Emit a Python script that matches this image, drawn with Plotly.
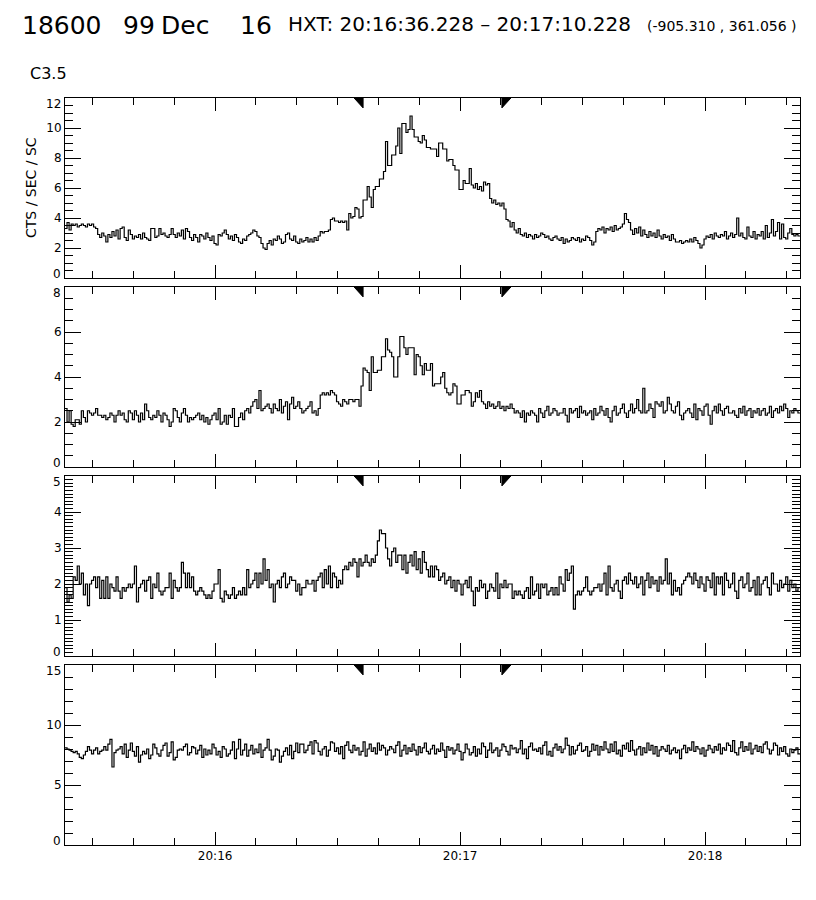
import pandas as pd
import plotly.graph_objects as go

# observation window and HXT accumulation interval (from the title)
DAY = "1999-12-16"
T_START = "20:15:23.228"
T_END = "20:18:23.228"
BIN_SEC = 0.5
MARK_START = "20:16:36.228"
MARK_END = "20:17:10.228"

# count rates per 0.5 s bin, CTS / SEC / SC
lo = [
    3.3, 3.7, 3.2, 3.6, 3.5, 3.6, 3.4, 3.5, 3.6, 3.5, 3.4, 3.6, 3.5, 3.6, 3.4, 3.3, 2.9, 2.7, 3.0, 2.8,
    2.4, 2.9, 2.7, 3.1, 2.8, 3.2, 2.6, 3.3, 3.4, 2.7, 2.5, 3.2, 2.9, 2.6, 2.8, 2.7, 2.9, 2.6, 3.0, 2.7,
    2.6, 2.5, 3.3, 3.3, 2.7, 2.8, 3.3, 2.9, 3.0, 2.8, 2.7, 2.9, 3.3, 2.9, 2.7, 3.0, 2.8, 3.2, 2.6, 3.3,
    3.1, 2.7, 2.5, 2.9, 2.7, 2.4, 2.9, 2.8, 2.6, 3.0, 2.7, 2.5, 2.8, 2.3, 2.2, 2.9, 2.8, 3.0, 3.2, 2.9,
    2.6, 2.8, 2.5, 2.9, 2.7, 2.4, 2.3, 2.6, 2.5, 2.8, 2.9, 3.0, 3.2, 3.1, 2.8, 2.7, 2.3, 2.0, 1.9, 2.3,
    2.5, 2.2, 2.6, 2.5, 2.8, 2.6, 2.3, 2.4, 2.9, 3.0, 2.6, 2.5, 2.8, 2.4, 2.3, 2.6, 2.4, 2.5, 2.7, 2.4,
    2.6, 2.4, 2.7, 2.5, 2.8, 3.1, 3.0, 3.1, 3.1, 3.2, 3.9, 4.0, 3.8, 3.8, 3.7, 3.8, 3.7, 3.8, 3.2, 4.3,
    4.0, 4.1, 4.7, 4.6, 4.0, 4.1, 5.2, 5.2, 6.1, 5.4, 4.7, 5.9, 6.1, 6.1, 6.6, 6.6, 7.1, 9.1, 7.5, 7.5,
    8.2, 8.2, 8.8, 10.0, 8.3, 10.3, 10.3, 9.7, 9.9, 10.8, 9.9, 9.4, 9.4, 9.1, 9.0, 9.5, 9.2, 8.7, 8.7, 8.6,
    8.6, 8.6, 8.1, 9.0, 9.0, 8.6, 8.6, 7.8, 7.9, 7.9, 7.5, 7.2, 7.2, 5.9, 5.9, 6.5, 6.3, 6.3, 7.3, 6.2,
    6.0, 6.3, 5.9, 6.1, 5.8, 6.4, 6.2, 6.3, 5.3, 5.0, 5.2, 4.9, 5.0, 4.8, 5.0, 4.6, 3.9, 3.8, 3.4, 3.7,
    3.2, 3.0, 3.3, 2.9, 2.8, 3.0, 2.7, 2.9, 2.8, 2.6, 2.9, 2.7, 2.8, 3.0, 2.9, 2.7, 2.8, 2.6, 2.5, 2.7,
    2.8, 2.6, 2.5, 2.7, 2.3, 2.6, 2.4, 2.5, 2.7, 2.6, 2.5, 2.7, 2.4, 2.6, 2.5, 2.8, 2.7, 2.5, 2.2, 2.4,
    3.1, 3.3, 3.2, 3.4, 3.0, 3.3, 3.2, 3.4, 3.1, 3.5, 3.2, 3.3, 3.4, 3.6, 4.3, 3.9, 3.7, 3.2, 2.9, 3.3,
    3.0, 3.4, 2.8, 3.2, 2.9, 2.7, 3.1, 2.8, 3.0, 2.7, 3.2, 2.8, 2.6, 2.9, 2.7, 2.8, 2.5, 2.9, 2.6, 2.4,
    2.4, 2.5, 2.3, 2.4, 2.5, 2.4, 2.6, 2.4, 2.7, 2.5, 2.3, 2.0, 2.2, 2.6, 2.8, 2.7, 2.9, 2.6, 3.0, 2.8,
    2.7, 2.9, 2.8, 3.1, 2.6, 2.8, 3.0, 2.7, 2.9, 4.0, 2.8, 3.0, 2.7, 2.6, 3.4, 2.8, 2.7, 3.1, 2.6, 2.9,
    2.8, 3.1, 2.6, 3.5, 2.7, 3.0, 3.9, 2.8, 3.1, 3.7, 2.6, 3.6, 2.7, 2.6, 3.0, 3.3, 2.9, 2.8, 2.9, 2.8,
]
m1 = [
    2.6, 2.0, 2.5, 1.9, 1.8, 2.1, 2.1, 1.9, 2.5, 2.2, 2.0, 2.5, 2.4, 2.3, 2.4, 2.6, 2.3, 2.3, 2.2, 2.3,
    2.1, 2.2, 2.4, 2.3, 2.0, 2.3, 2.5, 2.3, 2.4, 2.1, 2.0, 2.5, 2.4, 2.1, 2.5, 2.3, 2.0, 2.4, 2.1, 2.8,
    2.5, 2.2, 2.1, 2.3, 2.2, 2.5, 2.3, 2.0, 2.4, 2.3, 2.1, 1.8, 2.0, 2.6, 2.5, 2.2, 2.0, 2.4, 2.6, 2.3,
    2.0, 2.2, 2.1, 2.2, 2.3, 2.4, 2.1, 2.3, 2.0, 2.2, 1.9, 2.1, 2.3, 2.4, 2.1, 2.6, 1.9, 2.0, 2.3, 1.9,
    2.3, 2.2, 2.6, 1.8, 1.8, 2.2, 2.4, 2.1, 2.5, 2.6, 2.4, 2.7, 2.9, 3.0, 2.6, 3.4, 2.5, 2.6, 2.7, 2.8,
    2.6, 2.4, 2.8, 2.6, 2.5, 3.0, 2.4, 2.7, 2.9, 2.1, 2.8, 3.1, 2.6, 2.7, 2.9, 2.6, 2.4, 2.5, 2.6, 2.7,
    2.9, 2.4, 2.5, 2.3, 2.6, 3.2, 3.3, 3.2, 3.3, 3.2, 3.4, 3.3, 3.2, 2.9, 2.8, 2.7, 3.0, 2.9, 2.8, 3.0,
    3.0, 2.9, 3.0, 3.0, 2.7, 3.6, 4.4, 4.3, 4.2, 3.4, 4.9, 4.2, 4.2, 4.3, 4.3, 4.9, 4.9, 5.7, 5.2, 5.1,
    4.9, 4.0, 4.0, 4.9, 5.8, 5.8, 5.3, 5.0, 5.3, 5.3, 5.3, 4.1, 5.0, 4.9, 4.5, 4.1, 4.6, 4.3, 4.3, 4.6,
    3.6, 3.7, 3.7, 3.7, 4.0, 4.2, 3.5, 3.3, 3.2, 3.3, 3.7, 3.6, 2.8, 2.8, 3.2, 3.2, 3.4, 3.4, 3.3, 2.7,
    2.9, 3.3, 3.1, 3.4, 2.9, 2.8, 2.6, 2.9, 2.7, 2.8, 2.6, 2.7, 2.9, 2.6, 2.7, 2.5, 2.7, 2.6, 2.8, 2.6,
    2.4, 2.5, 2.4, 2.2, 2.5, 2.0, 2.4, 2.3, 2.5, 2.4, 2.3, 2.0, 2.6, 2.4, 2.2, 2.5, 2.7, 2.3, 2.4, 2.6,
    2.5, 2.3, 2.4, 2.4, 2.6, 2.3, 2.0, 2.6, 2.4, 2.5, 2.6, 2.2, 2.7, 2.4, 2.5, 2.3, 2.4, 2.5, 2.1, 2.6,
    2.3, 2.4, 2.7, 2.5, 2.3, 2.6, 2.2, 2.0, 2.5, 2.7, 2.3, 2.4, 2.6, 2.8, 2.4, 2.2, 2.5, 2.8, 2.4, 2.6,
    3.0, 2.5, 2.4, 3.5, 2.4, 2.5, 2.8, 2.6, 2.2, 2.9, 2.8, 2.7, 2.9, 2.4, 2.5, 3.1, 2.8, 2.5, 2.4, 2.7,
    2.9, 2.3, 2.1, 2.4, 2.5, 2.6, 2.4, 2.2, 2.8, 2.1, 2.6, 2.5, 2.3, 2.7, 2.8, 2.3, 1.9, 2.5, 2.7, 2.4,
    2.8, 2.5, 2.3, 2.6, 2.7, 2.4, 2.4, 2.5, 2.3, 2.2, 2.6, 2.4, 2.7, 2.3, 2.5, 2.6, 2.2, 2.5, 2.4, 2.6,
    2.3, 2.5, 2.6, 2.3, 2.4, 2.7, 2.2, 2.5, 2.6, 2.4, 2.7, 2.5, 2.8, 2.6, 2.2, 2.5, 2.4, 2.6, 2.5, 2.4,
]
m2 = [
    1.9, 1.5, 1.7, 1.6, 2.2, 2.1, 2.5, 2.0, 2.3, 1.7, 2.0, 1.4, 2.0, 2.1, 2.2, 1.9, 2.2, 1.6, 2.1, 1.6,
    2.2, 1.6, 2.0, 1.9, 1.8, 2.2, 1.8, 1.6, 1.9, 1.8, 1.9, 2.0, 1.9, 2.0, 2.5, 1.5, 1.9, 2.0, 2.1, 1.8,
    2.1, 2.2, 1.6, 2.0, 1.9, 2.3, 1.8, 1.7, 1.8, 1.9, 1.9, 2.3, 1.6, 2.1, 1.9, 1.8, 1.9, 2.6, 2.3, 1.9,
    2.3, 1.9, 2.2, 1.8, 1.7, 1.8, 1.9, 1.8, 1.7, 1.6, 1.7, 1.6, 1.8, 2.0, 2.0, 2.4, 1.6, 1.5, 1.8, 1.7,
    1.6, 1.7, 1.9, 1.6, 1.7, 1.8, 1.7, 1.9, 1.7, 2.4, 1.9, 2.0, 2.1, 2.3, 1.9, 2.3, 2.0, 2.7, 2.1, 2.4,
    1.9, 2.0, 1.5, 2.0, 2.1, 1.9, 2.2, 2.3, 1.9, 2.0, 2.2, 2.1, 2.1, 1.8, 2.0, 1.7, 1.9, 1.9, 2.1, 2.0,
    2.0, 2.1, 1.8, 2.1, 2.2, 2.3, 1.9, 2.4, 2.0, 2.5, 1.9, 2.3, 2.2, 1.9, 2.1, 2.0, 2.4, 2.5, 2.4, 2.6,
    2.5, 2.7, 2.6, 2.2, 2.7, 2.5, 2.6, 2.8, 2.6, 2.5, 2.7, 2.6, 2.8, 3.2, 3.5, 3.4, 3.4, 3.0, 2.7, 2.5,
    2.9, 3.0, 2.6, 2.8, 2.8, 2.4, 2.8, 2.3, 2.6, 2.8, 2.5, 2.9, 2.4, 2.7, 2.3, 2.9, 2.6, 2.4, 2.2, 2.5,
    2.2, 2.5, 2.4, 2.1, 2.2, 2.3, 2.0, 2.1, 2.2, 1.9, 2.1, 1.8, 2.1, 2.0, 1.7, 2.0, 2.1, 1.9, 2.2, 1.8,
    1.4, 1.9, 1.8, 2.1, 1.9, 2.0, 1.6, 1.8, 2.0, 1.9, 1.8, 2.3, 1.6, 2.0, 1.9, 2.1, 1.9, 2.0, 2.0, 1.6,
    1.8, 1.7, 1.8, 1.7, 1.6, 1.8, 1.9, 1.6, 2.2, 1.7, 1.8, 2.0, 1.6, 2.0, 1.9, 2.0, 1.7, 1.8, 1.9, 1.7,
    1.9, 1.7, 2.2, 2.0, 1.8, 2.4, 2.1, 2.3, 2.5, 1.3, 1.7, 1.8, 1.7, 1.8, 1.9, 2.2, 1.8, 1.7, 1.8, 1.9,
    1.9, 2.0, 1.8, 2.0, 2.3, 1.7, 2.5, 1.9, 1.8, 2.0, 2.1, 1.8, 1.6, 2.1, 2.2, 2.0, 2.3, 2.1, 2.0, 2.2,
    1.9, 2.0, 2.2, 1.7, 2.1, 2.3, 1.9, 2.2, 2.0, 2.1, 1.8, 2.2, 2.0, 2.1, 2.7, 2.0, 2.3, 1.7, 2.1, 1.8,
    1.9, 1.7, 2.0, 2.1, 2.2, 2.3, 2.2, 2.0, 2.3, 2.1, 1.9, 2.2, 2.0, 1.8, 2.2, 2.1, 1.9, 2.3, 1.7, 2.2,
    2.0, 2.2, 1.7, 2.3, 2.1, 1.9, 2.0, 2.3, 1.8, 1.6, 2.1, 2.2, 1.9, 2.0, 2.3, 1.8, 1.9, 2.1, 1.7, 2.2,
    1.7, 2.0, 2.1, 2.2, 1.9, 1.7, 2.3, 2.0, 2.0, 1.8, 2.1, 1.9, 2.0, 2.2, 1.8, 2.1, 1.9, 2.0, 1.8, 1.9,
]
hi = [
    8.1, 8.0, 7.9, 7.8, 7.7, 7.8, 7.6, 7.3, 7.2, 7.5, 7.8, 8.2, 7.9, 7.6, 7.9, 8.1, 7.6, 7.8, 7.9, 8.2,
    7.9, 8.4, 8.8, 6.5, 7.7, 7.9, 8.0, 8.2, 7.6, 8.4, 7.3, 7.9, 8.5, 7.8, 7.4, 8.2, 6.9, 7.5, 7.8, 7.6,
    8.0, 7.2, 7.5, 8.4, 8.1, 7.6, 7.4, 7.9, 8.3, 8.5, 7.4, 7.7, 8.6, 7.1, 7.3, 7.9, 8.0, 7.9, 8.2, 8.4,
    7.5, 7.7, 8.2, 8.1, 7.6, 7.9, 8.3, 7.3, 8.0, 7.5, 7.9, 7.6, 8.4, 8.1, 7.5, 7.8, 7.3, 8.2, 8.0, 7.4,
    7.6, 7.9, 8.6, 7.2, 8.0, 8.8, 7.5, 7.9, 8.4, 7.4, 7.9, 8.3, 7.6, 8.0, 7.7, 8.4, 7.3, 7.9, 8.1, 8.8,
    7.9, 7.1, 7.4, 8.0, 7.9, 6.9, 7.4, 7.8, 8.1, 7.5, 8.3, 7.2, 7.8, 8.5, 7.7, 8.4, 8.4, 7.7, 7.9, 8.3,
    8.6, 7.6, 8.7, 8.5, 7.8, 7.5, 8.0, 8.2, 7.4, 7.9, 8.6, 8.5, 7.8, 8.1, 7.6, 8.2, 7.2, 8.3, 8.6, 7.9,
    7.7, 8.3, 7.9, 8.1, 7.5, 7.8, 8.6, 7.4, 8.0, 8.4, 7.8, 8.1, 7.6, 8.5, 7.9, 8.3, 8.1, 7.5, 7.9, 8.2,
    8.0, 7.7, 8.3, 8.6, 7.4, 7.9, 8.3, 7.6, 8.1, 7.8, 8.4, 7.9, 7.5, 8.2, 7.7, 8.1, 8.5, 7.8, 7.6, 8.0,
    8.3, 7.6, 8.0, 7.8, 8.5, 7.9, 7.3, 8.2, 7.9, 8.1, 7.6, 7.9, 8.4, 7.8, 7.1, 7.7, 8.4, 8.0, 7.5, 7.7,
    8.2, 7.4, 8.0, 7.6, 8.5, 8.2, 7.3, 7.9, 8.5, 7.7, 7.9, 8.1, 7.4, 7.9, 8.4, 8.2, 7.8, 7.5, 8.3, 8.0,
    8.1, 7.7, 8.0, 8.7, 7.6, 8.0, 7.2, 8.2, 8.5, 7.9, 8.0, 7.8, 8.1, 7.6, 8.3, 8.6, 7.5, 7.8, 7.4, 8.1,
    8.4, 7.9, 8.2, 7.7, 8.0, 8.9, 8.3, 7.5, 8.2, 7.6, 7.9, 8.3, 8.5, 7.8, 7.9, 8.2, 7.4, 7.8, 8.4, 7.9,
    8.3, 7.5, 8.2, 7.9, 8.6, 8.0, 7.7, 8.4, 7.8, 8.6, 7.6, 7.9, 7.4, 8.3, 8.0, 8.5, 7.8, 8.7, 7.9, 7.5,
    8.0, 8.2, 7.5, 8.1, 7.7, 8.5, 7.9, 8.3, 7.6, 8.2, 7.4, 7.9, 8.2, 8.0, 7.8, 8.3, 7.6, 7.9, 8.1, 7.7,
    7.9, 7.2, 8.0, 8.3, 7.7, 8.1, 7.9, 8.6, 7.8, 8.2, 8.0, 7.6, 8.1, 7.4, 7.9, 8.3, 8.0, 7.7, 8.2, 7.9,
    8.4, 7.6, 8.1, 7.9, 8.5, 8.3, 7.8, 8.7, 7.7, 7.5, 8.1, 8.6, 7.8, 8.2, 7.9, 8.5, 7.6, 8.0, 8.3, 7.8,
    8.2, 7.7, 8.4, 8.6, 8.0, 7.6, 7.9, 8.5, 8.3, 7.5, 8.1, 7.8, 8.2, 7.6, 7.4, 8.0, 7.7, 7.9, 8.1, 7.6,
]

# y-axis setup per panel: (max, major step, minor step)
y_setup = [(12, 2, 0.5), (8, 2, 0.5), (5, 1, 0.1), (15, 5, 1)]
series = [lo, m1, m2, hi]

FONT = "DejaVu Sans"
TICK_SIZE = 12
t0 = pd.Timestamp(f"{DAY} {T_START}")
t_end = pd.Timestamp(f"{DAY} {T_END}")

# panel heights in px: 180 each, 9 px gap, 747 px total
H = 747.0
domains = [[567 / H, 1.0], [378 / H, 558 / H], [189 / H, 369 / H], [0.0, 180 / H]]

fig = go.Figure()
for i, vals in enumerate(series):
    n = len(vals)
    edges = pd.date_range(t0, periods=n + 1, freq=f"{int(BIN_SEC * 1000)}ms")
    sfx = "" if i == 0 else str(i + 1)
    fig.add_trace(go.Scatter(
        x=edges, y=list(vals) + [vals[-1]],
        mode="lines", line=dict(color="black", width=1.2, shape="hv"),
        xaxis="x" + sfx, yaxis="y" + sfx, showlegend=False, hoverinfo="skip",
    ))

    ymax, dmaj, dmin = y_setup[i]
    yvals = list(range(0, ymax + 1, dmaj))
    # end labels are drawn separately (IDL style: nudged inside the panel)
    ytext = [""] + [str(v) for v in yvals[1:-1]] + [""]
    fig.update_layout({
        "xaxis" + sfx: dict(
            type="date", range=[t0, t_end], anchor="y" + sfx, domain=[0, 1],
            tick0=f"{DAY} 20:16:00", dtick=60000, tickformat="%H:%M",
            ticks="inside", ticklen=13, tickwidth=1, tickcolor="black", mirror="ticks",
            showline=True, linecolor="black", linewidth=1, showgrid=False, zeroline=False,
            minor=dict(dtick=10000, ticks="inside", ticklen=7, tickcolor="black", showgrid=False),
            showticklabels=(i == 3), tickfont=dict(family=FONT, size=TICK_SIZE, color="black"),
        ),
        "yaxis" + sfx: dict(
            range=[0, ymax], tickmode="array", tickvals=yvals, ticktext=ytext,
            anchor="x" + sfx, domain=domains[i],
            ticks="inside", ticklen=16, tickwidth=1, tickcolor="black", mirror="ticks",
            showline=True, linecolor="black", linewidth=1, showgrid=False, zeroline=False,
            minor=dict(tickmode="linear", tick0=0, dtick=dmin, ticks="inside", ticklen=8,
                       tickcolor="black", showgrid=False),
            tickfont=dict(family=FONT, size=TICK_SIZE, color="black"),
        ),
    })
    for v, shift in ((0, 4), (1, -6)):
        fig.add_annotation(text=str(yvals[0] if v == 0 else yvals[-1]), x=0, y=v,
                           xref="paper", yref=f"y{sfx} domain", xanchor="right", yanchor="middle",
                           xshift=-2, yshift=shift, showarrow=False,
                           font=dict(family=FONT, size=TICK_SIZE, color="black"))

    # accumulation-interval markers on the top edge of every panel
    w = pd.Timedelta(seconds=2.2)
    ms = pd.Timestamp(f"{DAY} {MARK_START}")
    me = pd.Timestamp(f"{DAY} {MARK_END}")
    fmt = lambda t: t.strftime("%Y-%m-%d_%H:%M:%S.%f")
    for path in (
        f"M {fmt(ms - w)},1 L {fmt(ms)},1 L {fmt(ms)},0.945 Z",
        f"M {fmt(me)},1 L {fmt(me + w)},1 L {fmt(me)},0.945 Z",
    ):
        fig.add_shape(type="path", path=path, xref="x" + sfx, yref=f"y{sfx} domain",
                      fillcolor="black", line=dict(color="black", width=1))


def px_x(px):
    return (px - 65) / 735.0


def px_y(py):
    return (845 - py) / H


texts = [
    ("18600", 20, 26, 25),
    ("99", 121, 26, 25),
    ("Dec", 159, 26, 25),
    ("16", 238, 26, 25),
    (f"HXT: {MARK_START} – {MARK_END}", 286, 24, 20),
    ("(-905.310 , 361.056 )", 645, 26, 14),
    ("C3.5", 28, 73, 16),
]
for txt, x, y, size in texts:
    fig.add_annotation(text=txt, x=px_x(x), y=px_y(y), xref="paper", yref="paper",
                       xanchor="left", yanchor="middle", showarrow=False,
                       font=dict(family=FONT, size=size, color="black"))

fig.add_annotation(text="CTS / SEC / SC", x=px_x(31), y=px_y(188), xref="paper", yref="paper",
                   textangle=-90, showarrow=False, xanchor="center", yanchor="middle",
                   font=dict(family=FONT, size=14, color="black"))

# the page shows the figure 8 px in from the top-left corner
fig.update_layout(
    width=816, height=900,
    margin=dict(l=57, r=24, t=90, b=63),
    plot_bgcolor="white", paper_bgcolor="white",
)

fig.write_html("out.html")
